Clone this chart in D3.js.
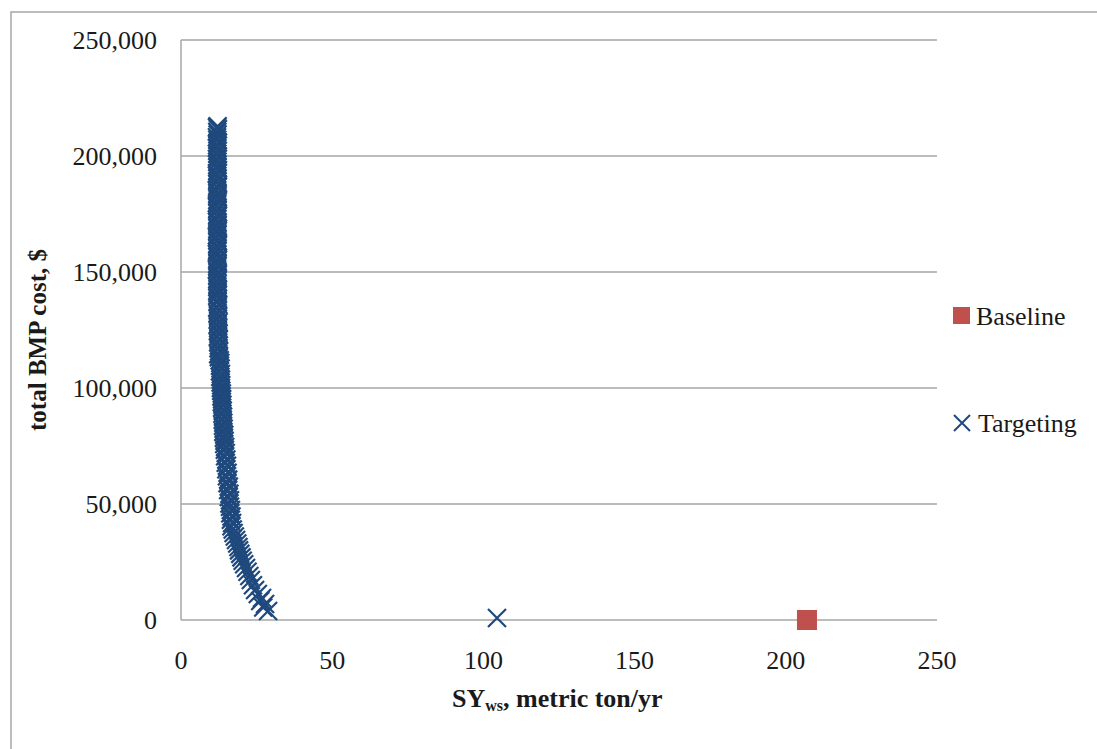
<!DOCTYPE html>
<html>
<head>
<meta charset="utf-8">
<script src="https://cdn.jsdelivr.net/npm/d3@7"></script>
<style>
  body { margin: 0; background: #fff; }
  svg { display: block; font-family: "Liberation Serif", "Times New Roman", serif; }
</style>
</head>
<body>
<div id="chart"></div>
<script>
// Targeting series: SY (metric ton/yr) and total BMP cost ($)
var targetSY = [
  12.1, 11.9, 12.2, 12.0, 12.1, 11.9, 12.0, 12.2, 12.0, 11.9, 12.1, 12.0, 12.2, 11.9, 12.0, 12.1,
  12.0, 12.2, 11.9, 12.0, 12.1, 12.0, 12.2, 12.0, 11.9, 12.1, 12.0, 12.2, 12.0, 11.9, 12.1, 12.0,
  12.2, 12.0, 11.9, 12.1, 12.0, 12.2, 12.0, 12.1, 11.9, 12.0, 12.2, 12.0, 12.1, 11.9, 12.0, 12.2,
  12.0, 12.1, 12.0, 11.9, 12.1, 12.0, 12.2, 12.0, 12.1, 12.0, 12.2, 12.1, 12.0, 12.2, 12.1, 12.3,
  12.0, 12.2, 12.1, 12.3, 12.2, 12.4, 12.1, 12.3, 12.2, 12.4, 12.2, 12.5, 12.3, 12.5, 12.4, 12.6,
  12.3, 12.5,
  12.8, 13.0, 12.9, 13.1, 12.9, 13.2, 13.0, 13.2, 13.1, 13.3, 13.2,
  13.3, 13.5, 13.4, 13.6, 13.5, 13.7, 13.6, 13.8, 13.7, 13.9, 13.8, 14.0, 13.9, 14.1, 14.0, 14.3,
  14.2, 14.4, 14.3, 14.6,
  14.5, 14.8, 14.6, 15.0, 14.8, 15.2, 15.0, 15.4, 15.2, 15.6, 15.4, 15.8, 15.6, 16.0, 15.8, 16.2,
  16.0,
  16.2, 16.5, 16.3, 16.7, 16.5, 16.9, 16.7, 17.1, 17.4, 17.8, 18.2, 18.6, 19.0, 19.2, 19.6, 20.0,
  20.4, 20.9, 21.5, 22.0, 22.6, 23.1, 23.8, 24.5, 25.4, 26.8, 26.2, 27.8, 27.2, 28.8,
  104.5
];
var targetCost = [
  212800, 212300, 211500, 210400, 209300, 208100, 207000, 205800, 204600, 203500, 202300, 201000, 199800, 198700, 197500, 196200,
  195100, 193900, 192600, 191400, 190200, 188900, 187600, 186400, 185100, 183900, 182600, 181300, 180100, 178800, 177600, 176300,
  175000, 173800, 172500, 171300, 170000, 168700, 167500, 166200, 165000, 163700, 162400, 161200, 159900, 158700, 157400, 156100,
  154900, 153600, 152400, 151100, 149800, 148600, 147300, 146100, 144800, 143500, 142300, 141000, 139800, 138500, 137200, 136000,
  134700, 133500, 132200, 130900, 129700, 128400, 127200, 125900, 124600, 123400, 122100, 120900, 119600, 118300, 117100, 115800,
  114600, 113300,
  112000, 110800, 109600, 108400, 107200, 106000, 104800, 103600, 102400, 101200, 100000,
  98800, 97600, 96400, 95200, 94000, 92800, 91500, 90200, 88900, 87600, 86300, 85000, 83700, 82400, 81100, 79800,
  78500, 77200, 75900, 74600,
  73400, 72000, 70600, 69200, 67800, 66500, 65000, 63500, 62000, 60500, 59000, 57500, 56000, 54400, 53000, 51600,
  50200,
  48800, 47400, 46000, 44600, 43200, 41800, 40400, 39000, 37500, 36000, 34500, 33000, 31500, 30000, 28500, 27000,
  25500, 24000, 22400, 20800, 19000, 17200, 15000, 12900, 11200, 9500, 8200, 6900, 5400, 3900,
  900
];
// Baseline series
var baseSY = [207];
var baseCost = [0];

var xTicks = [0, 50, 100, 150, 200, 250];
var yTicks = [0, 50000, 100000, 150000, 200000, 250000];
var legendLabels = ["Baseline", "Targeting"];

var W = 1097, H = 749;
var blue = "#1f497d", red = "#c0504d", grid = "#a6a6a6";

var svg = d3.select("#chart").append("svg")
  .attr("width", W)
  .attr("height", H);

// outer chart border (runs off the right/bottom edge)
svg.append("rect")
  .attr("x", 11).attr("y", 12)
  .attr("width", 1200).attr("height", 800)
  .attr("fill", "none")
  .attr("stroke", grid)
  .attr("stroke-width", 1.5);

var x = d3.scaleLinear().domain([0, 250]).range([181, 937]);
var y = d3.scaleLinear().domain([0, 250000]).range([620, 40]);

// gridlines
svg.append("g").selectAll("line")
  .data(yTicks)
  .enter().append("line")
  .attr("x1", x(0)).attr("x2", x(250))
  .attr("y1", function(d) { return y(d); })
  .attr("y2", function(d) { return y(d); })
  .attr("stroke", grid)
  .attr("stroke-width", 1.5);

// left axis line
svg.append("line")
  .attr("x1", x(0)).attr("x2", x(0))
  .attr("y1", y(0)).attr("y2", y(250000))
  .attr("stroke", grid)
  .attr("stroke-width", 1.5);

// tick labels
var fmt = d3.format(",");
svg.append("g").selectAll("text")
  .data(yTicks)
  .enter().append("text")
  .attr("x", 157)
  .attr("y", function(d) { return y(d) + 9; })
  .attr("text-anchor", "end")
  .attr("font-size", 26)
  .attr("fill", "#1a1a1a")
  .text(function(d) { return fmt(d); });

svg.append("g").selectAll("text")
  .data(xTicks)
  .enter().append("text")
  .attr("x", function(d) { return x(d); })
  .attr("y", 669)
  .attr("text-anchor", "middle")
  .attr("font-size", 26)
  .attr("fill", "#1a1a1a")
  .text(function(d) { return d; });

// axis titles
var xt = svg.append("text")
  .attr("x", 452).attr("y", 707)
  .attr("font-size", 26)
  .attr("font-weight", "bold")
  .attr("fill", "#1a1a1a");
xt.append("tspan").text("SY");
xt.append("tspan").attr("font-size", 16).attr("dy", 4).text("ws");
xt.append("tspan").attr("dy", -4).text(", metric ton/yr");

svg.append("text")
  .attr("transform", "translate(46,340) rotate(-90)")
  .attr("text-anchor", "middle")
  .attr("font-size", 25)
  .attr("font-weight", "bold")
  .attr("fill", "#1a1a1a")
  .text("total BMP cost, $");

// markers
var xMark = "M-9,-9L9,9M9,-9L-9,9";
var pts = targetSY.map(function(d, i) { return {sy: d, cost: targetCost[i]}; });

svg.append("g").selectAll("path")
  .data(pts)
  .enter().append("path")
  .attr("transform", function(d) { return "translate(" + x(d.sy) + "," + y(d.cost) + ")"; })
  .attr("d", xMark)
  .attr("fill", "none")
  .attr("stroke", blue)
  .attr("stroke-width", 2.2);

svg.append("g").selectAll("rect")
  .data(baseSY.map(function(d, i) { return {sy: d, cost: baseCost[i]}; }))
  .enter().append("rect")
  .attr("x", function(d) { return x(d.sy) - 10; })
  .attr("y", function(d) { return y(d.cost) - 10; })
  .attr("width", 20).attr("height", 20)
  .attr("fill", red);

// legend
var legend = svg.append("g");
legend.append("rect")
  .attr("x", 953).attr("y", 307)
  .attr("width", 17).attr("height", 17)
  .attr("fill", red);
legend.append("path")
  .attr("transform", "translate(962,423)")
  .attr("d", "M-8,-8L8,8M8,-8L-8,8")
  .attr("fill", "none")
  .attr("stroke", blue)
  .attr("stroke-width", 2);
legend.selectAll("text")
  .data(legendLabels)
  .enter().append("text")
  .attr("x", function(d, i) { return i === 0 ? 976 : 978; })
  .attr("y", function(d, i) { return i === 0 ? 325 : 432; })
  .attr("font-size", 26)
  .attr("fill", "#1a1a1a")
  .text(function(d) { return d; });
</script>
</body>
</html>
